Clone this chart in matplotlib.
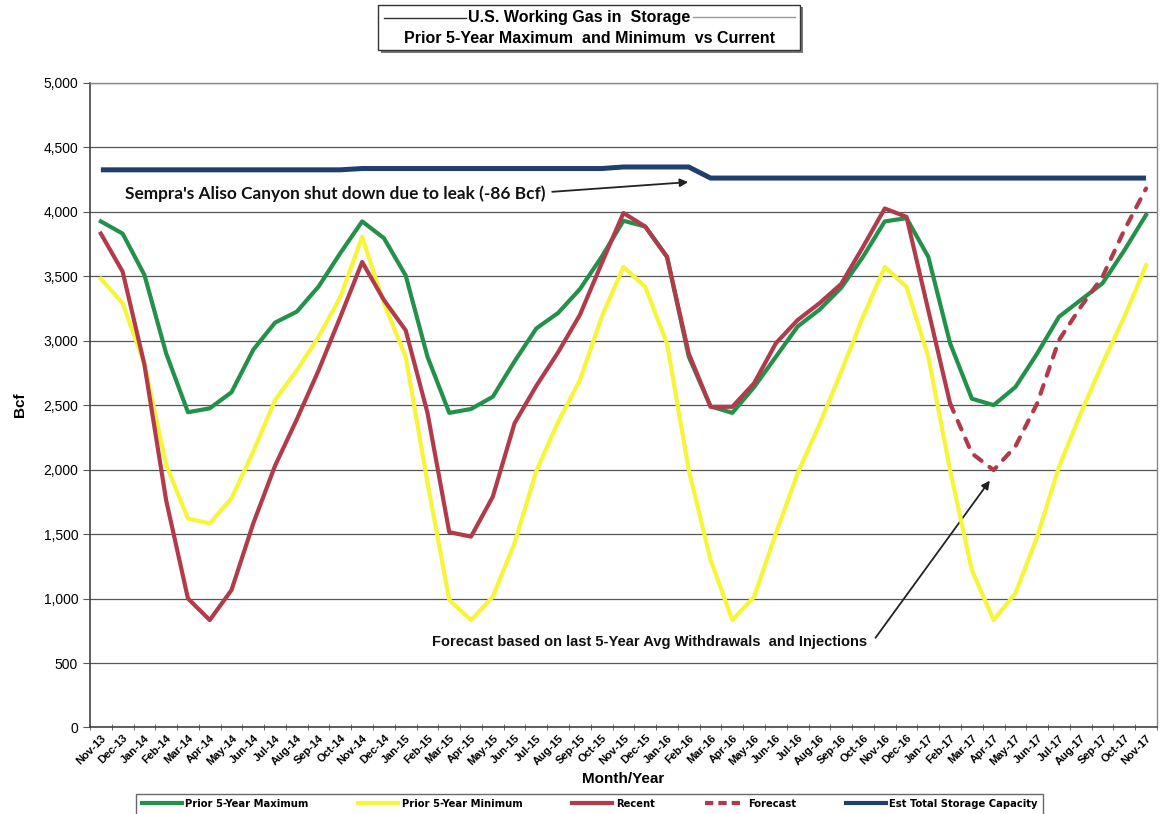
import numpy as np
import matplotlib
matplotlib.use('Agg')
import matplotlib.pyplot as plt
from matplotlib.lines import Line2D
from matplotlib.patches import Rectangle
from matplotlib.ticker import FuncFormatter, MultipleLocator

months = ['Nov-13', 'Dec-13', 'Jan-14', 'Feb-14', 'Mar-14', 'Apr-14', 'May-14', 'Jun-14',
          'Jul-14', 'Aug-14', 'Sep-14', 'Oct-14', 'Nov-14', 'Dec-14', 'Jan-15', 'Feb-15',
          'Mar-15', 'Apr-15', 'May-15', 'Jun-15', 'Jul-15', 'Aug-15', 'Sep-15', 'Oct-15',
          'Nov-15', 'Dec-15', 'Jan-16', 'Feb-16', 'Mar-16', 'Apr-16', 'May-16', 'Jun-16',
          'Jul-16', 'Aug-16', 'Sep-16', 'Oct-16', 'Nov-16', 'Dec-16', 'Jan-17', 'Feb-17',
          'Mar-17', 'Apr-17', 'May-17', 'Jun-17', 'Jul-17', 'Aug-17', 'Sep-17', 'Oct-17',
          'Nov-17']

max5 = [3925, 3830, 3510, 2900, 2445, 2475, 2600, 2930, 3140, 3225, 3420, 3680,
        3925, 3795, 3505, 2875, 2440, 2470, 2565, 2840, 3095, 3215, 3400, 3650,
        3930, 3885, 3650, 2875, 2490, 2440, 2640, 2875, 3110, 3240, 3410, 3650,
        3925, 3950, 3650, 2980, 2550, 2500, 2640, 2900, 3185, 3315, 3445, 3700,
        3975]

min5 = [3480, 3290, 2820, 2035, 1620, 1583, 1777, 2140, 2540, 2770, 3030, 3340,
        3804, 3290, 2874, 1900, 988, 833, 1014, 1430, 1990, 2370, 2694, 3184,
        3572, 3417, 2978, 1996, 1300, 833, 1014, 1505, 1972, 2350, 2760, 3184,
        3572, 3417, 2874, 1996, 1221, 833, 1040, 1479, 2022, 2436, 2823, 3184,
        3585]

recent = [3830, 3535, 2815, 1760, 1000, 833, 1066, 1583, 2030, 2390, 2770, 3185,
          3610, 3315, 3080, 2440, 1515, 1480, 1790, 2360, 2650, 2910, 3200, 3600,
          3990, 3885, 3650, 2900, 2487, 2487, 2670, 2980, 3160, 3290, 3440, 3727,
          4025, 3960, 3236, 2513]

forecast = [2513, 2126, 1996, 2180, 2513, 3004, 3262, 3495, 3857, 4180]

capacity = [4325] * 12 + [4335] * 12 + [4347] * 4 + [4261] * 21

x = np.arange(len(months))
x_fc = np.arange(len(recent) - 1, len(months))

fig = plt.figure(figsize=(11.61, 8.14), dpi=100)
ax = fig.add_axes([0.0775, 0.1063, 0.919, 0.792])

green = '#23914a'
yellow = '#f6f53a'
red = '#b23b4b'
blue = '#1f3f70'

ax.plot(x, capacity, color=blue, lw=3.6, solid_capstyle='butt', zorder=3)
ax.plot(x, min5, color=yellow, lw=3.0, zorder=4)
ax.plot(x, max5, color=green, lw=3.0, zorder=5)
ax.plot(x[:len(recent)], recent, color=red, lw=3.0, zorder=6)
ax.plot(x_fc, forecast, color=red, lw=3.0, dashes=(2.2, 2.4),
        dash_capstyle='round', zorder=6)

ax.set_xlim(-0.5, len(months) - 0.5)
ax.set_ylim(0, 5000)
ax.yaxis.set_major_locator(MultipleLocator(500))
ax.yaxis.set_major_formatter(FuncFormatter(lambda v, p: f'{int(v):,}'))
ax.grid(axis='y', color='#555555', lw=0.9)
ax.set_axisbelow(True)

ax.set_xticks(x)
ax.set_xticklabels(months, rotation=45, ha='right', va='top',
                   rotation_mode='anchor', fontsize=8,
                   family='Liberation Sans', fontweight='bold')
ax.set_xticks(np.arange(-0.5, len(months)), minor=True)
ax.tick_params(axis='x', which='major', length=0, pad=4)
ax.tick_params(axis='x', which='minor', length=5, direction='inout',
               color='#555555')
ax.tick_params(axis='y', length=5, direction='out', color='#555555',
               labelsize=10)
for lab in ax.get_yticklabels():
    lab.set_family('Liberation Sans')

for s in ['left', 'bottom']:
    ax.spines[s].set_color('#444444')
    ax.spines[s].set_linewidth(1.2)
for s in ['right', 'top']:
    ax.spines[s].set_color('#888888')
    ax.spines[s].set_linewidth(1.0)

ax.set_ylabel('Bcf', family='Liberation Sans', fontweight='bold',
              fontsize=11, labelpad=12)
ax.set_xlabel('Month/Year', family='Liberation Sans', fontweight='bold',
              fontsize=11, labelpad=4)

# annotations
ax.annotate('', xy=(27.1, 4231), xytext=(20.6, 4153),
            arrowprops=dict(arrowstyle='-|>', color='#222222', lw=1.3,
                            mutation_scale=12))
ax.text(1.1, 4143, "Sempra's Aliso Canyon shut down due to leak (-86 Bcf)",
        family='Lato', fontweight='bold', fontsize=12.4, va='center',
        ha='left', color='#111111')

ax.annotate('', xy=(40.9, 1932), xytext=(35.5, 678),
            arrowprops=dict(arrowstyle='-|>', color='#222222', lw=1.3,
                            mutation_scale=12))
ax.text(15.2, 663, 'Forecast based on last 5-Year Avg Withdrawals  and Injections',
        family='Liberation Sans', fontweight='bold', fontsize=10.5,
        va='center', ha='left', color='#111111')

# title box
fig.add_artist(Rectangle((0.3280, 0.9350), 0.3636, 0.0560,
                         transform=fig.transFigure, facecolor='#777777',
                         edgecolor='none', zorder=1))
fig.add_artist(Rectangle((0.3256, 0.9386), 0.3636, 0.0553,
                         transform=fig.transFigure, facecolor='white',
                         edgecolor='#333333', lw=1.0, zorder=2))
fig.text(0.4990, 0.979, 'U.S. Working Gas in  Storage', ha='center',
         va='center', family='Liberation Sans', fontweight='bold',
         fontsize=11.5, zorder=3)
fig.text(0.5075, 0.953, 'Prior 5-Year Maximum  and Minimum  vs Current',
         ha='center', va='center', family='Liberation Sans',
         fontweight='bold', fontsize=11.5, zorder=3)
fig.add_artist(Line2D([0.331, 0.401], [0.978, 0.978], transform=fig.transFigure,
                      color='#333333', lw=1.0, zorder=3))
fig.add_artist(Line2D([0.597, 0.685], [0.979, 0.979], transform=fig.transFigure,
                      color='#999999', lw=1.0, zorder=3))

# legend
handles = [Line2D([], [], color=green, lw=3.0),
           Line2D([], [], color=yellow, lw=3.0),
           Line2D([], [], color=red, lw=3.0),
           Line2D([], [], color=red, lw=3.0, dashes=(2.0, 1.2)),
           Line2D([], [], color=blue, lw=3.0)]
labels = ['Prior 5-Year Maximum', 'Prior 5-Year Minimum', 'Recent',
          'Forecast', 'Est Total Storage Capacity']
leg = fig.legend(handles, labels, loc='center', bbox_to_anchor=(0.508, 0.012),
                 ncol=5, frameon=True, fancybox=False, handlelength=3.6,
                 handletextpad=0.3, columnspacing=4.5, borderpad=0.5,
                 prop={'family': 'DejaVu Sans', 'stretch': 'condensed',
                       'weight': 'bold', 'size': 8})
leg.get_frame().set_edgecolor('#444444')
leg.get_frame().set_linewidth(1.0)

fig.savefig('out.png', dpi=100)
